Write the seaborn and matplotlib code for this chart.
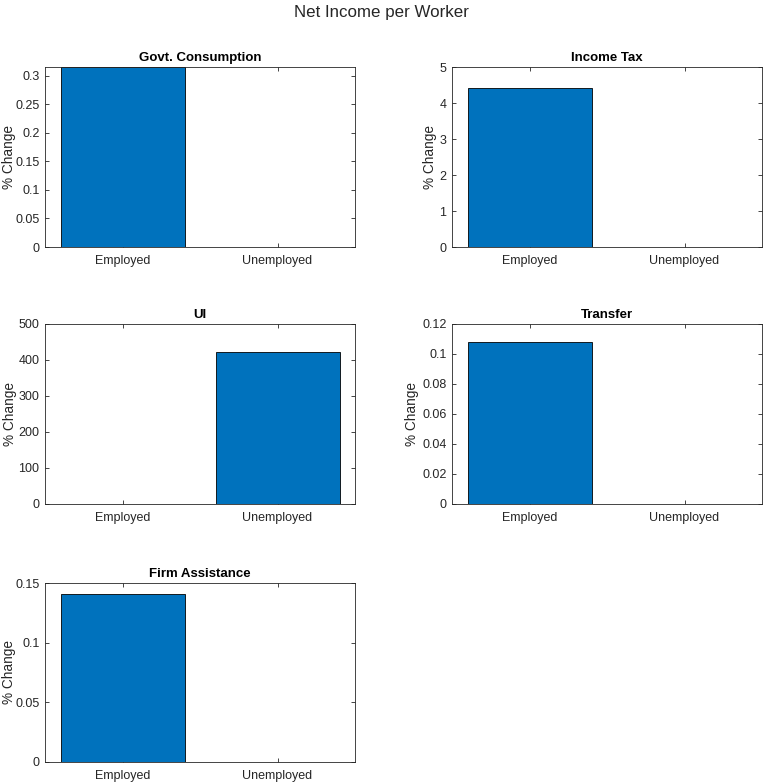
import matplotlib
matplotlib.use("Agg")
import matplotlib.pyplot as plt
import seaborn as sns
import pandas as pd

categories = ["Employed", "Unemployed"]
titles = ["Govt. Consumption", "Income Tax", "UI", "Transfer", "Firm Assistance"]
govt_values = [0.315, 0.0]
tax_values = [4.42, 0.0]
ui_values = [0.4, 421.0]
transfer_values = [0.108, 0.0]
firm_values = [0.141, 0.0]
y_limits = [0.315, 5, 500, 0.12, 0.15]
y_ticks = [
    [0, 0.05, 0.1, 0.15, 0.2, 0.25, 0.3],
    [0, 1, 2, 3, 4, 5],
    [0, 100, 200, 300, 400, 500],
    [0, 0.02, 0.04, 0.06, 0.08, 0.1, 0.12],
    [0, 0.05, 0.1, 0.15],
]
y_ticklabels = [
    ["0", "0.05", "0.1", "0.15", "0.2", "0.25", "0.3"],
    ["0", "1", "2", "3", "4", "5"],
    ["0", "100", "200", "300", "400", "500"],
    ["0", "0.02", "0.04", "0.06", "0.08", "0.1", "0.12"],
    ["0", "0.05", "0.1", "0.15"],
]
series = [govt_values, tax_values, ui_values, transfer_values, firm_values]

sns.set_theme(style="white")
plt.rcParams["font.family"] = ["Liberation Sans", "DejaVu Sans"]

W, H = 763, 782
fig = plt.figure(figsize=(W / 100, H / 100), dpi=100)

# axes boxes in pixels: (left, top, right, bottom)
boxes = [
    (45, 67, 355, 247),
    (452, 67, 762, 247),
    (45, 324, 355, 504),
    (452, 324, 762, 504),
    (45, 583, 355, 762),
]
# y-label centre x positions in pixels
label_x = [9, 430, 10, 412, 9]

axis_col = "#262626"
for i, (title, vals) in enumerate(zip(titles, series)):
    l, t, r, b = boxes[i]
    ax = fig.add_axes([l / W, 1 - b / H, (r - l) / W, (b - t) / H])
    df = pd.DataFrame({"cat": categories, "val": vals})
    sns.barplot(data=df, x="cat", y="val", ax=ax, color="#0072BD",
                saturation=1, edgecolor="black", linewidth=0.6, width=0.8)
    ax.set_xlim(-0.5, 1.5)
    ax.set_ylim(0, y_limits[i])
    ax.set_yticks(y_ticks[i])
    ax.set_yticklabels(y_ticklabels[i])
    ax.set_xlabel("")
    ax.set_ylabel("% Change", fontsize=9.8, color=axis_col)
    ax.yaxis.set_label_coords((label_x[i] - l) / (r - l), 0.5)
    ax.yaxis.label.set_va("center")
    ax.set_title(title, fontsize=9.5, fontweight="bold", color="black", pad=4)
    ax.tick_params(axis="both", direction="in", length=3, width=0.6,
                   colors=axis_col, labelsize=9, top=True, right=True,
                   left=True, bottom=True, pad=4)
    ax.tick_params(axis="x", pad=6)
    for sp in ax.spines.values():
        sp.set_visible(True)
        sp.set_color(axis_col)
        sp.set_linewidth(0.6)
    ax.set_facecolor("white")

fig.suptitle("Net Income per Worker", fontsize=12.2, y=1 - 12 / H, va="center")
fig.savefig("out.png", dpi=100, facecolor="white")
